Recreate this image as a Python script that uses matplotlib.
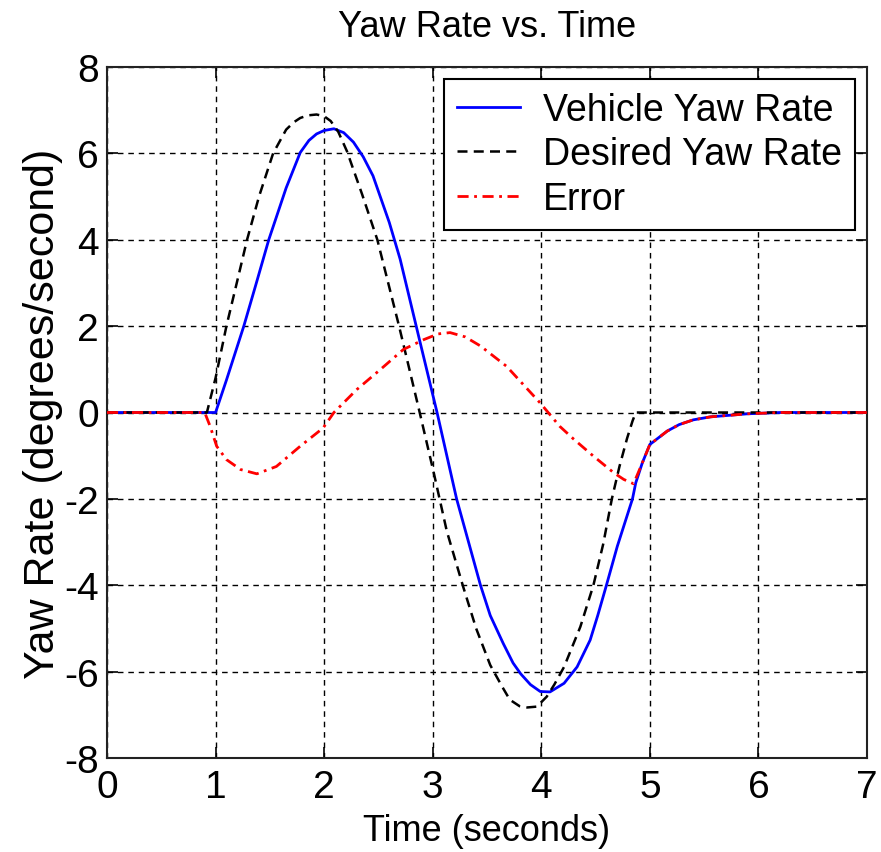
import matplotlib
matplotlib.use("Agg")
import matplotlib.pyplot as plt
from matplotlib import font_manager

# ---------------- data ----------------
desired_t = [0, 0.92, 1.00, 1.10, 1.20, 1.29, 1.40, 1.53, 1.65, 1.72, 1.78, 1.85, 1.93, 2.00,
             2.06, 2.13, 2.21, 2.35, 2.49, 2.59, 2.69, 2.79, 2.88, 3.01, 3.13, 3.28, 3.40,
             3.53, 3.64, 3.71, 3.80, 3.87, 3.96, 4.05, 4.12, 4.21, 4.36, 4.48, 4.57, 4.65,
             4.72, 4.79, 4.84, 4.87, 7.0]
desired_y = [0, 0, 0.80, 2.0, 3.05, 4.0, 5.0, 6.0, 6.55, 6.72, 6.82, 6.88, 6.9, 6.86,
             6.75, 6.5, 6.05, 5.05, 4.0, 3.0, 2.0, 0.95, 0, -1.4, -2.75, -4.03, -5.0,
             -5.85, -6.35, -6.65, -6.8, -6.83, -6.81, -6.58, -6.3, -5.89, -4.96, -4.0,
             -3.05, -2.0, -1.25, -0.6, -0.2, 0, 0]

vehicle_t = [0, 1.00, 1.10, 1.26, 1.37, 1.49, 1.65, 1.78, 1.86, 1.93, 2.00, 2.09, 2.18,
             2.27, 2.36, 2.45, 2.60, 2.70, 2.87, 3.04, 3.22, 3.44, 3.53, 3.65, 3.74, 3.81,
             3.90, 3.99, 4.08, 4.21, 4.33, 4.45, 4.52, 4.60, 4.70, 4.84, 4.87, 4.93, 5.00,
             5.16, 5.27, 5.40, 5.56, 5.90, 6.20, 7.0]
vehicle_y = [0, 0, 0.75, 2.0, 2.95, 4.0, 5.2, 6.02, 6.3, 6.45, 6.53, 6.57, 6.48,
             6.26, 5.92, 5.48, 4.4, 3.55, 1.77, 0, -2.0, -4.0, -4.7, -5.35, -5.8, -6.05,
             -6.3, -6.46, -6.47, -6.27, -5.89, -5.27, -4.7, -4.0, -3.1, -2.0, -1.63,
             -1.17, -0.74, -0.43, -0.28, -0.17, -0.1, -0.03, 0, 0]

error_t = [0, 0.90, 0.95, 1.01, 1.10, 1.23, 1.38, 1.56, 1.78, 1.99, 2.09, 2.30, 2.52, 2.73,
           2.92, 3.05, 3.16, 3.30, 3.44, 3.68, 3.99, 4.17, 4.30, 4.48, 4.67, 4.76, 4.85,
           4.93, 5.00, 5.16, 5.27, 5.40, 5.56, 5.90, 6.20, 7.0]
error_y = [0, 0, -0.32, -0.78, -1.09, -1.32, -1.42, -1.25, -0.78, -0.36, 0, 0.53, 1.0, 1.46,
           1.69, 1.82, 1.85, 1.75, 1.54, 1.07, 0.22, -0.32, -0.62, -1.01, -1.40, -1.55, -1.65,
           -1.17, -0.74, -0.43, -0.28, -0.17, -0.1, -0.03, 0, 0]

x_ticks = [0, 1, 2, 3, 4, 5, 6, 7]
y_ticks = [-8, -6, -4, -2, 0, 2, 4, 6, 8]
series_labels = ["Vehicle Yaw Rate", "Desired Yaw Rate", "Error"]
title = "Yaw Rate vs. Time"
xlabel = "Time (seconds)"
ylabel = "Yaw Rate (degrees/second)"

# ---------------- style ----------------
names = {f.name for f in font_manager.fontManager.ttflist}
fam = [n for n in ["Liberation Sans Narrow", "Liberation Sans", "DejaVu Sans"] if n in names]
plt.rcParams['font.family'] = fam

fig = plt.figure(figsize=(8.81, 8.53), dpi=100)
ax = fig.add_axes([107/881, 1 - 759/853, 760/881, 691/853])

ax.plot(vehicle_t, vehicle_y, color='#0000ff', lw=2.0, ls='-', label=series_labels[0], zorder=3)
ax.plot(desired_t, desired_y, color='black', lw=1.8, ls=(0, (4, 2.5)), label=series_labels[1], zorder=4)
ax.plot(error_t, error_y, color='#ff0000', lw=2.0, ls=(0, (4, 2, 1, 2)), label=series_labels[2], zorder=5)

ax.set_xlim(0, 7)
ax.set_ylim(-8, 8)
ax.set_xticks(x_ticks)
ax.set_yticks(y_ticks)
ax.set_xticklabels([str(v) for v in x_ticks])
ax.set_yticklabels([str(v) for v in y_ticks])
ax.tick_params(direction='in', length=8, width=1.2, top=True, right=True,
               labelsize=28, pad=6)
ax.tick_params(axis='x', pad=8)
ax.grid(True, color='black', lw=1.0, ls=(0, (4, 3.5)), zorder=1)
ax.set_axisbelow(True)
for s in ax.spines.values():
    s.set_linewidth(1.5)
    s.set_color('#222222')

ax.set_title(title, fontsize=26, pad=22)
ax.set_xlabel(xlabel, fontsize=26, labelpad=6)
ax.set_ylabel(ylabel, fontsize=31, labelpad=1)

leg = ax.legend(loc='upper right', bbox_to_anchor=((855-107)/760, (759-80)/691),
                borderaxespad=0, fontsize=27, frameon=True, fancybox=False,
                handlelength=1.7, handletextpad=0.6, labelspacing=0.22,
                borderpad=0.35)
leg.get_frame().set_edgecolor('black')
leg.get_frame().set_linewidth(1.5)
leg.get_frame().set_facecolor('white')
leg.get_frame().set_alpha(1)

fig.savefig("out.png", dpi=100, facecolor='white')
